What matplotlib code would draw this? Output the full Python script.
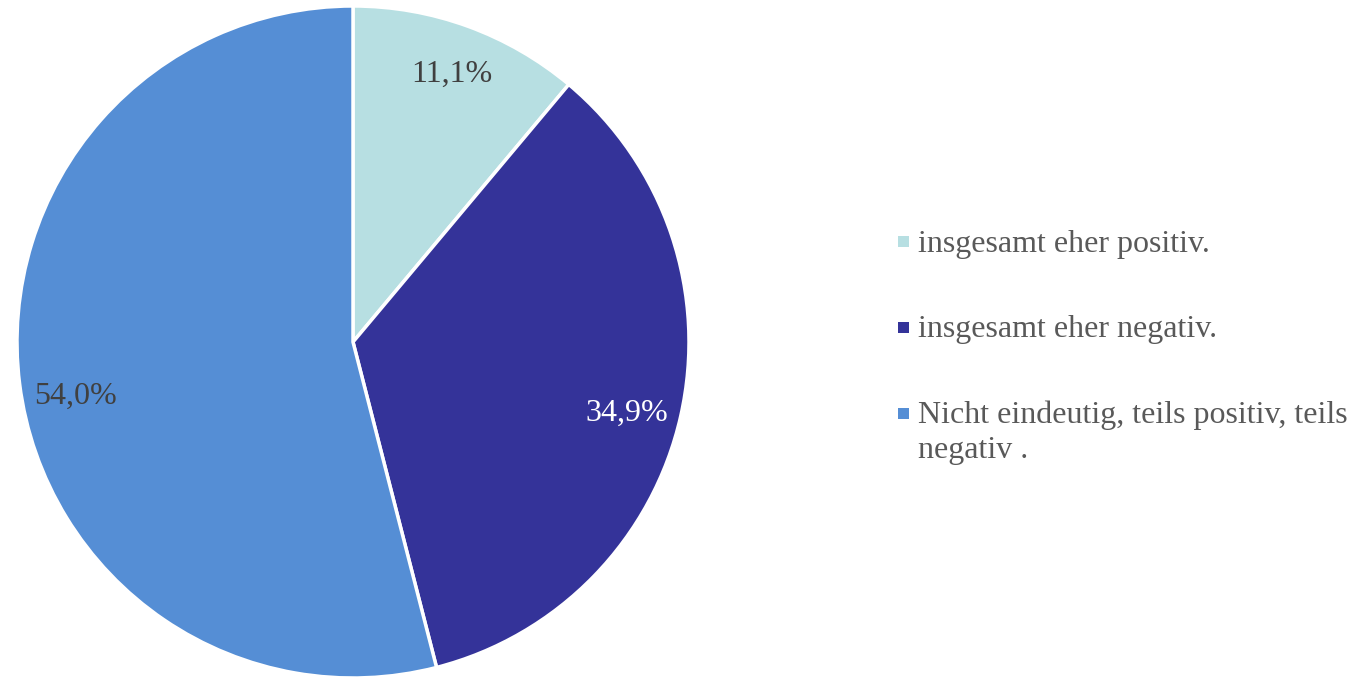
import matplotlib.pyplot as plt
from matplotlib.patches import Rectangle

labels = ['insgesamt eher positiv.',
          'insgesamt eher negativ.',
          'Nicht eindeutig, teils positiv, teils\nnegativ .']
values = [11.1, 34.9, 54.0]
colours = ['#B7DFE2', '#343399', '#558ED5']
pct_colours = ['#404040', 'white', '#404040']

plt.rcParams['font.family'] = ['Liberation Serif', 'DejaVu Serif']

W, H = 1355, 678
fig = plt.figure(figsize=(W / 100, H / 100), dpi=100)

# pie: centre (353, 342) px, radius 336 px
cx, cy, r = 353, 342, 336
ax = fig.add_axes([(cx - r) / W, (H - cy - r) / H, 2 * r / W, 2 * r / H])
wedges, texts, autotexts = ax.pie(
    values, colors=colours, startangle=90, counterclock=False,
    autopct=lambda p: f'{p:.1f}'.replace('.', ',') + '%',
    pctdistance=0.85, radius=1,
    wedgeprops=dict(edgecolor='white', linewidth=2.5),
    textprops=dict(fontsize=23))
# label centres as placed in the original (pixels)
pct_pos = [(452, 74), (627, 413), (75, 396)]
for t, c, (px, py) in zip(autotexts, pct_colours, pct_pos):
    t.set_color(c)
    t.set_position(((px - cx) / r, (cy - py) / r))
ax.set_xlim(-1, 1)
ax.set_ylim(-1, 1)
ax.axis('off')

# legend drawn by hand so the marker sits on the first text line
legend_y = [242, 327, 413]
for lab, col, y in zip(labels, colours, legend_y):
    fig.patches.append(Rectangle(((903 - 5.5) / W, (H - y - 5.5) / H), 11 / W, 11 / H,
                                 transform=fig.transFigure, facecolor=col,
                                 edgecolor='none'))
    for i, line in enumerate(lab.split('\n')):
        fig.text(918 / W, (H - y - 10 - 35 * i) / H, line, fontsize=23,
                 color='#595959', va='baseline', ha='left')

fig.savefig('out.png', dpi=100)
